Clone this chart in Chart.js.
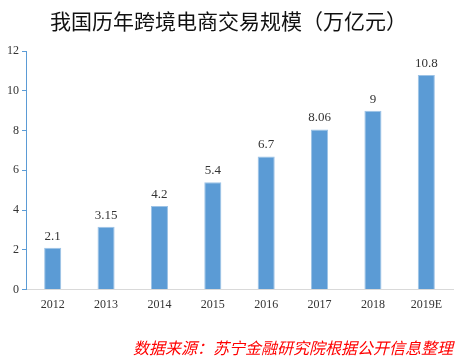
<!DOCTYPE html>
<html lang="zh">
<head>
  <meta charset="UTF-8">
  <title>我国历年跨境电商交易规模</title>
  <style>
    body { margin: 0; background: #fff; }
    #chart { display: block; }
  </style>
  <script src="https://cdn.jsdelivr.net/npm/chart.js"></script>
</head>
<body>
<canvas id="chart" width="456" height="364"></canvas>
<script>
  // datos
  const years = ['2012', '2013', '2014', '2015', '2016', '2017', '2018', '2019E'];
  const valores = [2.1, 3.15, 4.2, 5.4, 6.7, 8.06, 9, 10.8];
  const etiquetas = ['2.1', '3.15', '4.2', '5.4', '6.7', '8.06', '9', '10.8'];

  // etiquetas encima de cada barra
  const barLabels = {
    id: 'barLabels',
    afterDatasetsDraw(chart) {
      const ctx = chart.ctx;
      const meta = chart.getDatasetMeta(0);
      ctx.save();
      ctx.font = '13px "Liberation Serif"';
      ctx.fillStyle = '#333';
      ctx.textAlign = 'center';
      ctx.textBaseline = 'bottom';
      meta.data.forEach((bar, i) => {
        ctx.fillText(etiquetas[i], bar.x, bar.y - 5);
      });
      ctx.restore();
    }
  };

  new Chart(document.getElementById('chart').getContext('2d'), {
    type: 'bar',
    data: {
      labels: years,
      datasets: [{
        data: valores,
        backgroundColor: '#5B9BD5',
        borderColor: '#9DC3E6',
        borderWidth: 1,
        categoryPercentage: 1,
        barPercentage: 0.32
      }]
    },
    options: {
      responsive: false,
      animation: false,
      layout: { padding: { left: 4, right: 3, bottom: 6 } },
      plugins: {
        legend: { display: false },
        tooltip: { enabled: false },
        title: {
          display: true,
          text: '我国历年跨境电商交易规模（万亿元）',
          color: '#111',
          font: { family: '"Noto Sans CJK SC"', size: 21, weight: 'normal' },
          padding: { top: 8, bottom: 18 }
        },
        subtitle: {
          display: true,
          position: 'bottom',
          align: 'end',
          text: '数据来源：苏宁金融研究院根据公开信息整理',
          color: '#ff0000',
          font: { family: '"Noto Sans CJK SC"', size: 16, style: 'italic' },
          padding: { top: 27, bottom: 0, right: 8 }
        }
      },
      scales: {
        x: {
          grid: { display: false },
          border: { display: true, color: '#d9d9d9' },
          ticks: { color: '#333', font: { family: '"Liberation Serif"', size: 12 }, padding: 0 }
        },
        y: {
          min: 0,
          max: 12,
          ticks: { stepSize: 2, color: '#333', font: { family: '"Liberation Serif"', size: 12 }, padding: 3 },
          grid: { display: true, drawOnChartArea: false, drawTicks: true, tickLength: 4, color: '#5B9BD5' },
          border: { display: true, color: '#5B9BD5' }
        }
      }
    },
    plugins: [barLabels]
  });
</script>
</body>
</html>
